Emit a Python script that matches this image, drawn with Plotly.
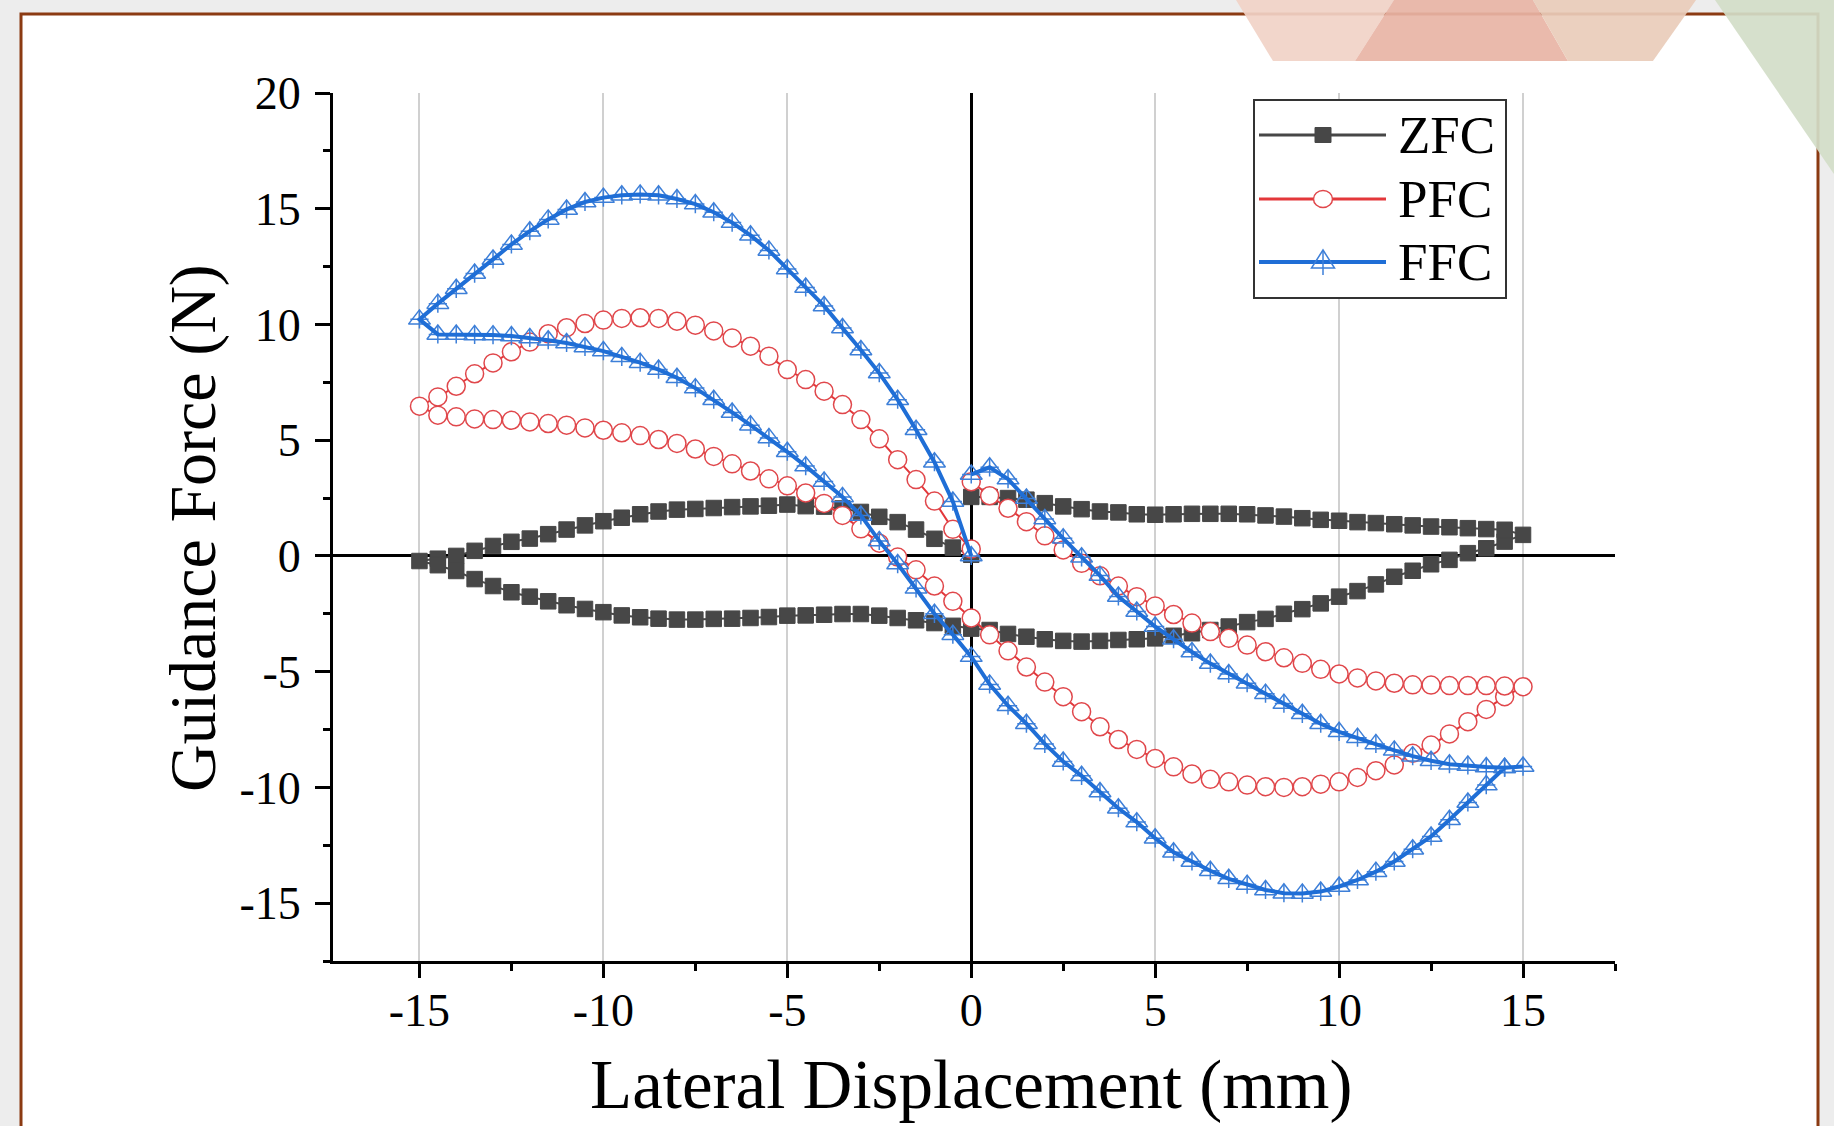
import plotly.graph_objects as go

# ---------------- data ----------------
# displacement path: 0 -> -15 mm, -15 -> +15 mm, +15 -> 0 mm (0.5 mm steps)
disp_out = [round(-0.5 * i, 1) for i in range(31)]
disp_sweep = [round(-14.5 + 0.5 * i, 1) for i in range(60)]
disp_back = [round(14.5 - 0.5 * i, 1) for i in range(30)]

zfc_out = [0.05, 0.36, 0.74, 1.14, 1.46, 1.69, 1.90, 2.05, 2.13, 2.15, 2.22, 2.17, 2.14, 2.11, 2.07, 2.03,
           2.00, 1.92, 1.80, 1.65, 1.50, 1.32, 1.14, 0.94, 0.75, 0.61, 0.43, 0.22, 0.00, -0.12, -0.22]
zfc_sweep = [-0.40, -0.65, -1.00, -1.30, -1.57, -1.76, -1.96, -2.13, -2.29, -2.43, -2.57, -2.65, -2.71, -2.75,
             -2.75, -2.72, -2.71, -2.68, -2.64, -2.58, -2.57, -2.54, -2.51, -2.51, -2.58, -2.68, -2.78, -2.90,
             -3.02, -3.14, -3.20, -3.37, -3.49, -3.60, -3.67, -3.70, -3.67, -3.63, -3.60, -3.56, -3.45, -3.34,
             -3.20, -3.05, -2.86, -2.72, -2.50, -2.30, -2.05, -1.76, -1.52, -1.23, -0.90, -0.64, -0.36, -0.17,
             0.12, 0.33, 0.62, 0.91]
zfc_back = [1.13, 1.16, 1.20, 1.24, 1.27, 1.32, 1.37, 1.42, 1.46, 1.52, 1.56, 1.63, 1.70, 1.75, 1.80, 1.82,
            1.82, 1.82, 1.80, 1.78, 1.80, 1.88, 1.92, 2.02, 2.14, 2.28, 2.43, 2.50, 2.55, 2.55]

pfc_out = [0.30, 1.15, 2.37, 3.30, 4.16, 5.06, 5.89, 6.54, 7.12, 7.62, 8.05, 8.63, 9.06, 9.42, 9.72, 9.97,
           10.14, 10.26, 10.29, 10.26, 10.19, 10.04, 9.86, 9.60, 9.24, 8.82, 8.34, 7.87, 7.33, 6.87, 6.47]
pfc_sweep = [6.08, 6.01, 5.92, 5.89, 5.86, 5.79, 5.72, 5.65, 5.53, 5.43, 5.32, 5.20, 5.03, 4.86, 4.62, 4.30,
             3.98, 3.67, 3.33, 3.03, 2.72, 2.27, 1.75, 1.17, 0.55, -0.05, -0.60, -1.30, -1.96, -2.68, -3.41,
             -4.10, -4.80, -5.45, -6.08, -6.73, -7.38, -7.93, -8.36, -8.75, -9.11, -9.42, -9.65, -9.76, -9.90,
             -9.97, -10.00, -9.97, -9.86, -9.76, -9.57, -9.28, -9.03, -8.53, -8.17, -7.69, -7.16, -6.63, -6.08,
             -5.65]
pfc_back = [-5.62, -5.60, -5.60, -5.60, -5.58, -5.57, -5.50, -5.40, -5.27, -5.10, -4.90, -4.64, -4.40, -4.14,
            -3.85, -3.56, -3.27, -2.90, -2.53, -2.16, -1.76, -1.30, -0.86, -0.32, 0.26, 0.87, 1.48, 2.06, 2.60,
            3.21]

ffc_out = [0.00, 2.35, 4.05, 5.45, 6.75, 7.90, 8.90, 9.85, 10.80, 11.60, 12.40, 13.20, 13.85, 14.40, 14.85,
           15.20, 15.42, 15.58, 15.62, 15.58, 15.48, 15.29, 14.97, 14.54, 14.03, 13.46, 12.81, 12.20, 11.54,
           10.90, 10.22]
ffc_sweep = [9.57, 9.57, 9.55, 9.54, 9.50, 9.42, 9.32, 9.20, 9.03, 8.85, 8.60, 8.35, 8.05, 7.70, 7.25, 6.75,
             6.20, 5.65, 5.10, 4.50, 3.88, 3.22, 2.55, 1.75, 0.65, -0.35, -1.40, -2.50, -3.40, -4.35, -5.55,
             -6.47, -7.25, -8.12, -8.88, -9.50, -10.20, -10.90, -11.50, -12.20, -12.80, -13.20, -13.60, -13.95,
             -14.20, -14.43, -14.57, -14.58, -14.50, -14.28, -14.00, -13.64, -13.20, -12.67, -12.12, -11.40,
             -10.65, -9.90, -9.15, -9.10]
ffc_back = [-9.15, -9.12, -9.05, -9.00, -8.85, -8.65, -8.40, -8.12, -7.85, -7.60, -7.25, -6.82, -6.38, -5.95,
            -5.50, -5.10, -4.65, -4.15, -3.60, -3.05, -2.40, -1.75, -0.85, -0.06, 0.76, 1.60, 2.48, 3.32, 3.83,
            3.52]

series_names = ["ZFC", "PFC", "FFC"]
x_tickvals = [-15, -10, -5, 0, 5, 10, 15]
x_ticktext = ["-15", "-10", "-5", "0", "5", "10", "15"]
y_tickvals = [-15, -10, -5, 0, 5, 10, 15, 20]
y_ticktext = ["-15", "-10", "-5", "0", "5", "10", "15", "20"]

# ---------------- styling ----------------
FONT = "Liberation Serif, Times New Roman, serif"
C_ZFC = "#474747"
C_PFC_LINE = "#E3373A"
C_PFC_MK = "#E0474B"
C_FFC_LINE = "#1F6ED6"
C_FFC_MK = "#3D7FD8"

disp = disp_out + disp_sweep + disp_back
zfc = zfc_out + zfc_sweep + zfc_back
pfc = pfc_out + pfc_sweep + pfc_back
ffc = ffc_out + ffc_sweep + ffc_back

fig = go.Figure()
fig.add_trace(go.Scatter(x=disp, y=zfc, mode="lines+markers", name=series_names[0],
                         line=dict(color=C_ZFC, width=2),
                         marker=dict(symbol="square", size=15.5, color=C_ZFC, line=dict(width=1, color=C_ZFC)),
                         showlegend=False))
fig.add_trace(go.Scatter(x=disp, y=pfc, mode="lines+markers", name=series_names[1],
                         line=dict(color=C_PFC_LINE, width=2),
                         marker=dict(symbol="circle", size=18, color="white", line=dict(width=1.5, color=C_PFC_MK)),
                         showlegend=False))
fig.add_trace(go.Scatter(x=disp, y=ffc, mode="markers", name=series_names[2],
                         marker=dict(symbol="triangle-up-open", size=19, color=C_FFC_MK,
                                     line=dict(width=1.5, color=C_FFC_MK)),
                         showlegend=False))
fig.add_trace(go.Scatter(x=disp, y=ffc, mode="markers", name=series_names[2],
                         marker=dict(symbol="cross-thin-open", size=13, color=C_FFC_MK,
                                     line=dict(width=1.5, color=C_FFC_MK)),
                         showlegend=False))
fig.add_trace(go.Scatter(x=disp, y=ffc, mode="lines", name=series_names[2],
                         line=dict(color=C_FFC_LINE, width=4), showlegend=False))

# ---------------- geometry helpers (pixel -> paper) ----------------
L, R, T, B = 333, 1615, 93, 961
W, H = 1834, 1126
X_MIN, X_MAX = -17.35, 17.5


def px(x):
    return (x - L) / (R - L)


def py(y):
    return (B - y) / (B - T)


def poly(pts):
    return "M " + " L ".join(f"{px(a):.4f},{py(b):.4f}" for a, b in pts) + " Z"


shapes = []
# slide frame
shapes.append(dict(type="rect", xref="paper", yref="paper", x0=px(21), x1=px(1818), y0=py(1140), y1=py(14),
                   fillcolor="white", line=dict(color="#8B3A12", width=3), layer="below"))
# decorative slide triangles
for pts, col in [
    ([(1236, 0), (1394, 0), (1355, 61), (1273, 61)], "#F1D2C7"),
    ([(1394, 0), (1533, 0), (1568, 61), (1355, 61)], "#E8B4A5"),
    ([(1533, 0), (1696, 0), (1653, 61), (1568, 61)], "#E9CCBA"),
    ([(1715, 0), (1834, 0), (1834, 174)], "#D3DDC8"),
]:
    shapes.append(dict(type="path", xref="paper", yref="paper", path=poly(pts), fillcolor=col,
                       line=dict(width=0), opacity=0.92, layer="above"))

# manual legend
shapes.append(dict(type="rect", xref="paper", yref="paper", x0=px(1254), x1=px(1506), y0=py(298), y1=py(100),
                   fillcolor="white", line=dict(color="#333333", width=2), layer="above"))
rows = [135, 199, 262]
line_cols = [C_ZFC, C_PFC_LINE, C_FFC_LINE]
line_ws = [3, 3, 4]
mx = px(1323)
for r, c, w in zip(rows, line_cols, line_ws):
    shapes.append(dict(type="line", xref="paper", yref="paper", x0=px(1259), x1=px(1386), y0=py(r), y1=py(r),
                       line=dict(color=c, width=w), layer="above"))
shapes.append(dict(type="rect", xref="paper", yref="paper", xsizemode="pixel", ysizemode="pixel",
                   xanchor=mx, yanchor=py(rows[0]), x0=-8, x1=8, y0=-7.5, y1=7.5,
                   fillcolor=C_ZFC, line=dict(color=C_ZFC, width=1), layer="above"))
shapes.append(dict(type="circle", xref="paper", yref="paper", xsizemode="pixel", ysizemode="pixel",
                   xanchor=mx, yanchor=py(rows[1]), x0=-9.5, x1=9.5, y0=-8.5, y1=8.5,
                   fillcolor="white", line=dict(color=C_PFC_MK, width=1.5), layer="above"))
shapes.append(dict(type="path", xref="paper", yref="paper", xsizemode="pixel", ysizemode="pixel",
                   xanchor=mx, yanchor=py(rows[2]), path="M -11.5,-6 L 11.5,-6 L 0,12 Z",
                   fillcolor="rgba(0,0,0,0)", line=dict(color=C_FFC_MK, width=1.5), layer="above"))
shapes.append(dict(type="path", xref="paper", yref="paper", xsizemode="pixel", ysizemode="pixel",
                   xanchor=mx, yanchor=py(rows[2]), path="M 0,12 L 0,-13",
                   line=dict(color=C_FFC_MK, width=1.5), layer="above"))

annotations = []
for r, name in zip(rows, series_names):
    annotations.append(dict(xref="paper", yref="paper", x=px(1396), y=py(r), xanchor="left", yanchor="middle",
                            text=name, showarrow=False, font=dict(family=FONT, size=53, color="black")))
annotations.append(dict(xref="paper", yref="paper", x=px(193), y=py(528), xanchor="center", yanchor="middle",
                        text="Guidance Force (N)", textangle=-90, showarrow=False,
                        font=dict(family=FONT, size=66, color="black")))
annotations.append(dict(xref="paper", yref="paper", x=px(971), y=py(1085), xanchor="center", yanchor="middle",
                        text="Lateral Displacement (mm)", showarrow=False,
                        font=dict(family=FONT, size=69, color="black")))

tickfont = dict(family=FONT, size=46, color="black")
fig.update_layout(
    width=W, height=H, autosize=False,
    margin=dict(l=L, r=W - R, t=T, b=H - B, pad=0),
    paper_bgcolor="#EDEDED", plot_bgcolor="rgba(0,0,0,0)",
    showlegend=False,
    shapes=shapes, annotations=annotations,
    xaxis=dict(range=[X_MIN, X_MAX], tickmode="array", tickvals=x_tickvals, ticktext=x_ticktext,
               ticks="outside", ticklen=14, tickwidth=2.5, tickcolor="black",
               showline=True, linewidth=3, linecolor="black",
               showgrid=True, gridcolor="#D0D0D0", gridwidth=1.5,
               zeroline=True, zerolinecolor="black", zerolinewidth=2.5,
               minor=dict(tickvals=[-12.5, -7.5, -2.5, 2.5, 7.5, 12.5, 17.5], ticks="outside",
                          ticklen=7, tickwidth=2.5, tickcolor="black", showgrid=False),
               tickfont=tickfont, ticklabelstandoff=-7),
    yaxis=dict(range=[-17.5, 20], tickmode="array", tickvals=y_tickvals, ticktext=y_ticktext,
               ticks="outside", ticklen=15, tickwidth=2.5, tickcolor="black",
               showline=True, linewidth=3, linecolor="black",
               showgrid=False,
               zeroline=True, zerolinecolor="black", zerolinewidth=2.5,
               minor=dict(tickvals=[-17.5, -12.5, -7.5, -2.5, 2.5, 7.5, 12.5, 17.5], ticks="outside",
                          ticklen=7, tickwidth=2.5, tickcolor="black", showgrid=False),
               tickfont=tickfont, ticklabelstandoff=5),
    yaxis2=dict(range=[-17.5, 20], overlaying="y", side="left", tickmode="array",
                tickvals=[-15, -10, -5, 5, 10, 15], showticklabels=False, ticks="",
                showline=False, zeroline=False, showgrid=True, gridcolor="#D0D0D0", gridwidth=1.5),
)

fig.write_html("out.html", config={"displayModeBar": False},
               post_script="document.body.style.margin='0';")
